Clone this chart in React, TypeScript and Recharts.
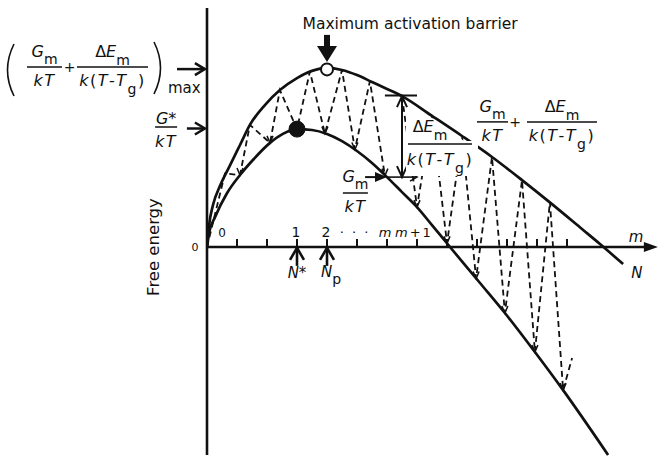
import type { ReactNode } from "react";
import { ComposedChart, Line, ReferenceDot, ReferenceLine, XAxis, YAxis } from "recharts";

const INK = "#111";
const FONT = "'DejaVu Sans', sans-serif";

// x: cluster size in tick steps, y: free energy (arbitrary units)
const upperCurve = [
  { x: 0, y: 0 }, { x: 0.07, y: 0.73 }, { x: 0.2, y: 1.4 }, { x: 0.43, y: 2.03 }, { x: 0.77, y: 2.73 },
  { x: 1.1, y: 3.4 }, { x: 1.43, y: 4.07 }, { x: 1.93, y: 4.73 }, { x: 2.43, y: 5.23 }, { x: 3, y: 5.63 },
  { x: 3.5, y: 5.87 }, { x: 4, y: 5.97 }, { x: 4.5, y: 5.9 }, { x: 5, y: 5.73 }, { x: 5.5, y: 5.5 },
  { x: 6, y: 5.27 }, { x: 6.5, y: 5.03 }, { x: 7.5, y: 4.37 }, { x: 8.5, y: 3.7 }, { x: 9.5, y: 3.0 },
  { x: 10.5, y: 2.23 }, { x: 11.5, y: 1.43 }, { x: 12.5, y: 0.6 }, { x: 13.1, y: 0.1 }, { x: 13.87, y: -0.57 },
];

const lowerCurve = [
  { x: 0, y: 0 }, { x: 0.07, y: 0.47 }, { x: 0.27, y: 1.0 }, { x: 0.67, y: 1.8 }, { x: 1.1, y: 2.4 },
  { x: 1.53, y: 2.9 }, { x: 2.1, y: 3.47 }, { x: 2.53, y: 3.77 }, { x: 3, y: 3.93 }, { x: 3.5, y: 3.9 },
  { x: 4, y: 3.77 }, { x: 4.5, y: 3.53 }, { x: 5, y: 3.2 }, { x: 5.5, y: 2.8 }, { x: 6, y: 2.33 },
  { x: 6.5, y: 1.83 }, { x: 7, y: 1.33 }, { x: 7.5, y: 0.73 }, { x: 8.1, y: 0 }, { x: 9.1, y: -1.2 },
  { x: 9.93, y: -2.2 }, { x: 10.93, y: -3.5 }, { x: 11.87, y: -4.77 }, { x: 13.37, y: -6.93 },
];

// dashed path of successive additions, left of the ΔE marker
const stepsRising = [
  { x: 0, y: 0 }, { x: 0.6, y: 2.45 }, { x: 1.1, y: 2.4 }, { x: 1.43, y: 4.07 }, { x: 2.1, y: 3.47 },
  { x: 2.43, y: 5.23 }, { x: 3, y: 3.93 }, { x: 3.43, y: 5.85 }, { x: 3.93, y: 3.78 }, { x: 4.5, y: 5.9 },
  { x: 4.93, y: 3.25 }, { x: 5.43, y: 5.53 }, { x: 5.93, y: 2.38 },
];

// and to the right of it
const stepsFalling = [
  { x: 6.5, y: 5.03 }, { x: 7, y: 1.33 }, { x: 7.5, y: 4.37 }, { x: 8, y: 0.12 }, { x: 8.5, y: 3.7 },
  { x: 8.97, y: -1.05 }, { x: 9.5, y: 3.0 }, { x: 9.93, y: -2.2 }, { x: 10.5, y: 2.23 }, { x: 10.93, y: -3.5 },
  { x: 11.43, y: 1.5 }, { x: 11.87, y: -4.77 }, { x: 12.17, y: -3.7 },
];

const axisTicks = [1, 2, 3, 4, 5, 6, 7, 8, 9, 10, 11, 12];

const tickLabels = [
  { at: 0.5, text: "0", shift: 0, size: 12, anchor: "middle" },
  { at: 3, text: "1", shift: -1, size: 14, anchor: "middle" },
  { at: 4, text: "2", shift: -1, size: 14, anchor: "middle" },
  { at: 5, text: "· · ·", shift: -2, size: 13, anchor: "middle" },
  { at: 6, text: "m", shift: -2, size: 13, anchor: "middle" },
  { at: 7, text: "m+1", shift: -22, size: 13, anchor: "start" },
];

const criticalSize = 3; // N*
const peakSize = 4; // Np
const maxBarrier = 5.93;
const criticalBarrier = 3.95;

type Seg = { x1: number; y1: number; x2: number; y2: number };

const head = (x1: number, y1: number, x2: number, y2: number, len: number, half: number) => {
  const d = Math.hypot(x2 - x1, y2 - y1) || 1;
  const ux = (x2 - x1) / d;
  const uy = (y2 - y1) / d;
  const bx = x2 - ux * len;
  const by = y2 - uy * len;
  return `${bx - uy * half},${by + ux * half} ${x2},${y2} ${bx + uy * half},${by - ux * half}`;
};

const plain = (w: number) => (p: Seg) => (
  <line x1={p.x1} y1={p.y1} x2={p.x2} y2={p.y2} stroke={INK} strokeWidth={w} />
);

const arrow = (w: number, len: number, half: number, solid = false, both = false) => (p: Seg) => {
  const d = Math.hypot(p.x2 - p.x1, p.y2 - p.y1) || 1;
  const cut = solid ? len * 0.6 : 0;
  const ex = p.x2 - ((p.x2 - p.x1) / d) * cut;
  const ey = p.y2 - ((p.y2 - p.y1) / d) * cut;
  return (
    <g>
      <line x1={p.x1} y1={p.y1} x2={ex} y2={ey} stroke={INK} strokeWidth={w} />
      {solid ? (
        <polygon points={head(p.x1, p.y1, p.x2, p.y2, len, half)} fill={INK} />
      ) : (
        <polyline points={head(p.x1, p.y1, p.x2, p.y2, len, half)} fill="none" stroke={INK} strokeWidth={w} />
      )}
      {both && (
        <polyline points={head(p.x2, p.y2, p.x1, p.y1, len, half)} fill="none" stroke={INK} strokeWidth={w} />
      )}
    </g>
  );
};

const at = (key: string, x: number, y: number, draw: (cx: number, cy: number) => ReactNode) => (
  <ReferenceDot
    key={key}
    x={x}
    y={y}
    r={0}
    ifOverflow="visible"
    shape={(p: any) => <g>{draw(p.cx, p.cy)}</g>}
  />
);

const frac = (
  x: number,
  y: number,
  width: number,
  num: ReactNode,
  den: ReactNode,
  numDy = -10,
  denDy = 19,
  numShift = 0,
) => (
  <g fontFamily={FONT} fontSize={16} fill={INK}>
    <line x1={x} y1={y} x2={x + width} y2={y} stroke={INK} strokeWidth={1.5} />
    <text x={x + width / 2 + numShift} y={y + numDy} textAnchor="middle">{num}</text>
    <text x={x + width / 2} y={y + denDy} textAnchor="middle" letterSpacing={1.5}>{den}</text>
  </g>
);

const Gm = (
  <>
    <tspan fontStyle="italic">G</tspan>
    <tspan fontSize={14} dy={7}>m</tspan>
  </>
);
const dEm = (
  <>
    <tspan>Δ</tspan>
    <tspan fontStyle="italic">E</tspan>
    <tspan fontSize={14} dy={8}>m</tspan>
  </>
);
const kT = <tspan fontStyle="italic">kT</tspan>;
const kTTg = (
  <>
    <tspan fontStyle="italic">k</tspan>
    <tspan>(</tspan>
    <tspan fontStyle="italic">T</tspan>
    <tspan>-</tspan>
    <tspan fontStyle="italic">T</tspan>
    <tspan fontSize={14} dy={8}>g</tspan>
    <tspan dy={-8}>)</tspan>
  </>
);

const lowTip = (series: { x: number; y: number }[]) => (p: any) => {
  const prev = series[p.index - 1];
  const next = series[p.index + 1];
  const isLow = (!prev || prev.y > p.payload.y) && (!next || next.y > p.payload.y) && p.index > 0;
  if (!isLow) return <g key={p.index} />;
  return (
    <polyline
      key={p.index}
      points={`${p.cx - 3},${p.cy - 7} ${p.cx},${p.cy} ${p.cx + 3},${p.cy - 7}`}
      fill="none"
      stroke={INK}
      strokeWidth={1.5}
    />
  );
};

export default function App() {
  return (
    <div style={{ position: "absolute", left: 0, top: 0, width: 664, height: 459, background: "#fff" }}>
      <ComposedChart width={664} height={459} margin={{ top: 7, right: 7, bottom: 2, left: 207 }}>
        <XAxis type="number" dataKey="x" domain={[0, 15]} hide allowDataOverflow />
        <YAxis type="number" dataKey="y" domain={[-7, 8]} hide allowDataOverflow />

        <Line data={upperCurve} dataKey="y" type="monotone" stroke={INK} strokeWidth={2.7} dot={false} isAnimationActive={false} />
        <Line data={lowerCurve} dataKey="y" type="monotone" stroke={INK} strokeWidth={2.7} dot={false} isAnimationActive={false} />
        <Line data={stepsRising} dataKey="y" type="linear" stroke={INK} strokeWidth={1.8} strokeDasharray="6 4" dot={lowTip(stepsRising)} isAnimationActive={false} />
        <Line data={stepsFalling} dataKey="y" type="linear" stroke={INK} strokeWidth={1.8} strokeDasharray="6 4" dot={lowTip(stepsFalling)} isAnimationActive={false} />

        {/* axes */}
        <ReferenceLine segment={[{ x: 0, y: -6.93 }, { x: 0, y: 7.97 }]} ifOverflow="visible" shape={plain(2.6)} />
        <ReferenceLine segment={[{ x: 0, y: 0 }, { x: 15.03, y: 0 }]} ifOverflow="visible" shape={arrow(2.6, 14, 5, true)} />
        {axisTicks.map((t) => (
          <ReferenceLine key={`t${t}`} segment={[{ x: t, y: 0 }, { x: t, y: 0.27 }]} ifOverflow="visible" shape={plain(2)} />
        ))}

        {/* N* and Np markers */}
        <ReferenceLine segment={[{ x: criticalSize, y: -0.63 }, { x: criticalSize, y: -0.03 }]} ifOverflow="visible" shape={arrow(2.6, 12, 7)} />
        <ReferenceLine segment={[{ x: peakSize, y: -0.63 }, { x: peakSize, y: -0.03 }]} ifOverflow="visible" shape={arrow(2.6, 12, 7)} />

        {/* barrier levels on the free energy axis */}
        <ReferenceLine segment={[{ x: -1.0, y: maxBarrier }, { x: -0.07, y: maxBarrier }]} ifOverflow="visible" shape={arrow(2.5, 10, 6)} />
        <ReferenceLine segment={[{ x: -0.67, y: criticalBarrier }, { x: -0.07, y: criticalBarrier }]} ifOverflow="visible" shape={arrow(2.5, 10, 6)} />

        {/* maximum activation barrier pointer */}
        <ReferenceLine segment={[{ x: peakSize, y: 7.07 }, { x: peakSize, y: 6.17 }]} ifOverflow="visible" shape={arrow(6, 16, 10, true)} />

        {/* ΔE_m label sits on a white patch over the dashed steps, kept below the envelope */}
        {at("dELabel", 6.7, 3.43, (cx, cy) => (
          <g>
            <polygon
              points={`${cx - 2},${cy - 28} ${cx + 21},${cy - 28} ${cx + 56},${cy - 3} ${cx + 70},${cy - 3} ${cx + 70},${cy + 32} ${cx - 2},${cy + 32}`}
              fill="#fff"
            />
            {frac(cx, cy, 64, dEm, kTTg, -12, 21, -10)}
          </g>
        ))}

        {/* ΔE_m span and G_m/kT level */}
        <ReferenceLine segment={[{ x: 6.5, y: 2.33 }, { x: 6.5, y: 5.03 }]} ifOverflow="visible" shape={arrow(2, 11, 5, false, true)} />
        <ReferenceLine segment={[{ x: 5.93, y: 5.05 }, { x: 7.0, y: 5.05 }]} ifOverflow="visible" shape={plain(2)} />
        <ReferenceLine segment={[{ x: 5.27, y: 2.33 }, { x: 6.0, y: 2.33 }]} ifOverflow="visible" shape={arrow(2, 12, 5, true)} />
        <ReferenceLine segment={[{ x: 6.0, y: 2.33 }, { x: 7.0, y: 2.33 }]} ifOverflow="visible" shape={arrow(1.6, 7, 4)} />

        <ReferenceDot x={peakSize} y={5.92} r={6} fill="#fff" stroke={INK} strokeWidth={2} ifOverflow="visible" />
        <ReferenceDot x={criticalSize} y={3.93} r={8} fill={INK} stroke={INK} ifOverflow="visible" />

        {at("title", 6.77, 7.27, (cx, cy) => (
          <text x={cx} y={cy} textAnchor="middle" fontFamily={FONT} fontSize={15.5} fill={INK}>
            Maximum activation barrier
          </text>
        ))}

        {at("maxLabel", -6.0, 6.0, (cx, cy) => (
          <g>
            <path d={`M${cx - 13},${cy - 23} Q${cx - 26},${cy + 3} ${cx - 13},${cy + 29}`} fill="none" stroke={INK} strokeWidth={1.6} />
            {frac(cx, cy, 35, Gm, kT)}
            <text x={cx + 42.5} y={cy + 5} textAnchor="middle" fontFamily={FONT} fontSize={14} fill={INK}>+</text>
            {frac(cx + 50, cy, 71, dEm, kTTg)}
            <path d={`M${cx + 127},${cy - 25} Q${cx + 140},${cy + 1} ${cx + 127},${cy + 27}`} fill="none" stroke={INK} strokeWidth={1.6} />
            <text x={cx + 141} y={cy + 26} fontFamily={FONT} fontSize={15} fill={INK}>max</text>
          </g>
        ))}

        {at("critLabel", -1.73, 4.0, (cx, cy) =>
          frac(cx, cy, 22, <><tspan fontStyle="italic">G</tspan>*</>, kT, -3, 20)
        )}

        {at("envLabel", 9.0, 4.17, (cx, cy) => (
          <g>
            {frac(cx, cy, 31, Gm, kT)}
            <text x={cx + 38} y={cy + 5} textAnchor="middle" fontFamily={FONT} fontSize={14} fill={INK}>+</text>
            {frac(cx + 50, cy, 70, dEm, kTTg)}
          </g>
        ))}

        {at("gmLabel", 4.53, 1.8, (cx, cy) => frac(cx, cy, 25, Gm, kT, -11, 19))}

        {at("yTitle", -1.8, 0, (cx, cy) => (
          <text
            x={cx}
            y={cy}
            transform={`rotate(-90 ${cx} ${cy})`}
            textAnchor="middle"
            dominantBaseline="central"
            fontFamily={FONT}
            fontSize={16.5}
            fill={INK}
          >
            Free energy
          </text>
        ))}
        {at("yZero", -0.4, 0, (cx, cy) => (
          <text x={cx} y={cy + 4} textAnchor="middle" fontFamily={FONT} fontSize={11} fill={INK}>0</text>
        ))}

        {tickLabels.map((t) =>
          at(`l${t.at}`, t.at, 0, (cx, cy) => (
            <text
              x={cx + t.shift}
              y={cy - 10}
              textAnchor={t.anchor}
              fontFamily={FONT}
              fontSize={t.size}
              letterSpacing={t.text.length > 1 ? 2 : 0}
              fill={INK}
            >
              {t.text.startsWith("m") ? (
                <>
                  <tspan fontStyle="italic">m</tspan>
                  {t.text.slice(1)}
                </>
              ) : (
                t.text
              )}
            </text>
          ))
        )}

        {at("mEnd", 14.3, 0, (cx, cy) => (
          <text x={cx} y={cy - 5} textAnchor="middle" fontFamily={FONT} fontSize={15} fontStyle="italic" fill={INK}>m</text>
        ))}
        {at("nEnd", 14.33, -1.03, (cx, cy) => (
          <text x={cx} y={cy} textAnchor="middle" fontFamily={FONT} fontSize={15} fontStyle="italic" fill={INK}>N</text>
        ))}

        {at("nStar", criticalSize, 0, (cx, cy) => (
          <text x={cx} y={cy + 31} textAnchor="middle" fontFamily={FONT} fontSize={15} fill={INK}>
            <tspan fontStyle="italic">N</tspan>*
          </text>
        ))}
        {at("nP", peakSize, 0, (cx, cy) => (
          <text x={cx - 6} y={cy + 30} fontFamily={FONT} fontSize={15} fill={INK}>
            <tspan fontStyle="italic">N</tspan>
            <tspan fontSize={14} dy={7}>p</tspan>
          </text>
        ))}
      </ComposedChart>
    </div>
  );
}
